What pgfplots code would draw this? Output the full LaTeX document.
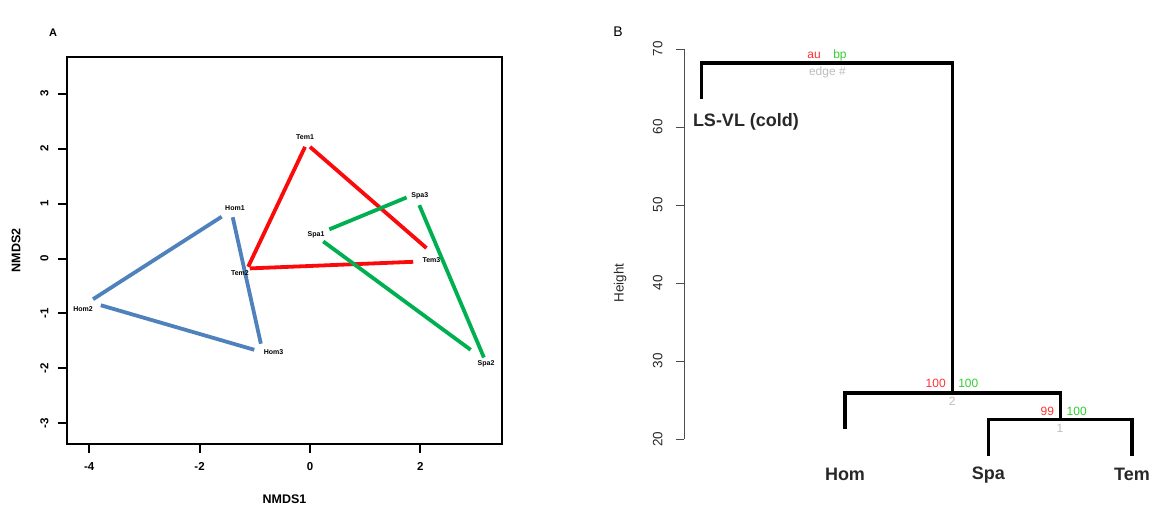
\documentclass[border=0pt]{standalone}
\usepackage{pgfplots}
\pgfplotsset{compat=1.18}
\usepackage{fontspec}
\setmainfont{Liberation Sans}
\definecolor{hblue}{RGB}{79,129,189}
\definecolor{tred}{RGB}{250,10,10}
\definecolor{sgreen}{RGB}{0,176,80}
\definecolor{aured}{RGB}{255,50,50}
\definecolor{bpgreen}{RGB}{50,205,50}
\definecolor{edgegray}{RGB}{190,190,190}
\definecolor{txtgray}{RGB}{40,40,40}
\begin{document}
\begin{tikzpicture}
\path[use as bounding box] (0,0) rectangle (1159pt,511pt);
% ---------------- Panel A ----------------
\begin{axis}[
  at={(67pt,67pt)}, anchor=south west, scale only axis,
  width=435pt, height=387pt,
  xmin=-4.402, xmax=3.478, ymin=-3.373, ymax=3.664,
  xtick={-4,-2,0,2}, ytick={-3,-2,-1,0,1,2,3},
  xtick pos=left, ytick pos=left,
  tick align=outside, major tick length=9pt,
  axis line style={line width=2.6pt},
  tick style={line width=2pt, black},
  /pgf/number format/assume math mode=true,
  ticklabel style={font=\fontsize{11.5}{11.5}\selectfont\bfseries},
  xticklabel style={yshift=-6pt},
  yticklabel style={xshift=-6pt, rotate=90, anchor=south},
  clip=false,
  every axis plot/.append style={line width=3.8pt},
]
\addplot[hblue] coordinates {(-1.60,0.76) (-3.93,-0.74)};
\addplot[hblue] coordinates {(-1.40,0.75) (-0.89,-1.55)};
\addplot[hblue] coordinates {(-3.79,-0.85) (-1.01,-1.66)};
\addplot[tred] coordinates {(-0.09,2.03) (-1.12,-0.15)};
\addplot[tred] coordinates {(0.0,2.03) (2.11,0.19)};
\addplot[tred] coordinates {(-1.09,-0.18) (1.87,-0.06)};
\addplot[sgreen] coordinates {(0.35,0.53) (1.75,1.11)};
\addplot[sgreen] coordinates {(0.24,0.31) (2.91,-1.66)};
\addplot[sgreen] coordinates {(1.98,0.97) (3.15,-1.80)};
\begin{scope}[every node/.style={font=\fontsize{7}{7}\selectfont\bfseries, inner sep=0pt}]
\node at (axis cs:-1.36,0.91) {Hom1};
\node at (axis cs:-4.11,-0.92) {Hom2};
\node at (axis cs:-0.66,-1.71) {Hom3};
\node at (axis cs:-0.09,2.21) {Tem1};
\node at (axis cs:-1.27,-0.27) {Tem2};
\node at (axis cs:2.20,-0.03) {Tem3};
\node at (axis cs:0.11,0.43) {Spa1};
\node at (axis cs:3.19,-1.92) {Spa2};
\node at (axis cs:1.99,1.14) {Spa3};
\end{scope}
\node[font=\fontsize{12.5}{12.5}\selectfont\bfseries] at ([yshift=-55pt]axis description cs:0.5,0) {NMDS1};
\node[font=\fontsize{12.5}{12.5}\selectfont\bfseries, rotate=90] at ([xshift=-51pt]axis description cs:0,0.5) {NMDS2};
\end{axis}
\node[font=\fontsize{11}{11}\selectfont\bfseries] at (53pt,478pt) {A};
\node[font=\fontsize{14}{14}\selectfont] at (618pt,479pt) {B};
% ---------------- Panel B ----------------
\begin{axis}[
  at={(684pt,33pt)}, anchor=south west, scale only axis,
  width=473.8pt, height=444.6pt,
  xmin=0.878, xmax=4.18, ymin=15, ymax=72,
  hide x axis,
  axis line style={draw=none},
  ytick={20,30,40,50,60,70}, ytick pos=left,
  tick align=outside, major tick length=8pt,
  tick style={line width=0.8pt, black!70},
  /pgf/number format/assume math mode=true,
  ticklabel style={font=\fontsize{13.5}{13.5}\selectfont, text=txtgray},
  yticklabel style={xshift=-10pt, rotate=90, anchor=south},
  clip=false,
]
\addplot[black!70, line width=0.8pt, no markers] coordinates {(0.878,20) (0.878,70)};
\addplot[black, line width=3.4pt, no markers] coordinates {(1,63.55) (1,68.2) (2.75,68.2) (2.75,25.9)};
\addplot[black, line width=3.4pt, no markers] coordinates {(2,21.25) (2,25.9) (3.5,25.9) (3.5,22.5)};
\addplot[black, line width=3.4pt, no markers] coordinates {(3,17.85) (3,22.5) (4,22.5) (4,17.85)};
\node[font=\fontsize{18}{18}\selectfont\bfseries, text=txtgray] at (axis cs:1.31,60.64) {LS-VL (cold)};
\node[font=\fontsize{18}{18}\selectfont\bfseries, text=txtgray] at (axis cs:2,15.4) {Hom};
\node[font=\fontsize{18}{18}\selectfont\bfseries, text=txtgray] at (axis cs:3,15.4) {Spa};
\node[font=\fontsize{18}{18}\selectfont\bfseries, text=txtgray] at (axis cs:4,15.4) {Tem};
\begin{scope}[every node/.style={font=\fontsize{12}{12}\selectfont, inner sep=0pt}]
\node[text=aured] at (axis cs:1.784,69.23) {au};
\node[text=bpgreen] at (axis cs:1.965,69.23) {bp};
\node[text=edgegray] at (axis cs:1.877,66.96) {edge \#};
\node[text=aured] at (axis cs:2.632,27.14) {100};
\node[text=bpgreen] at (axis cs:2.859,27.14) {100};
\node[text=edgegray] at (axis cs:2.748,24.78) {2};
\node[text=aured] at (axis cs:3.41,23.5) {99};
\node[text=bpgreen] at (axis cs:3.615,23.5) {100};
\node[text=edgegray] at (axis cs:3.498,21.37) {1};
\end{scope}
\node[font=\fontsize{13.5}{13.5}\selectfont, text=txtgray, rotate=90] at (axis cs:0.432,40) {Height};
\end{axis}
\end{tikzpicture}
\end{document}
